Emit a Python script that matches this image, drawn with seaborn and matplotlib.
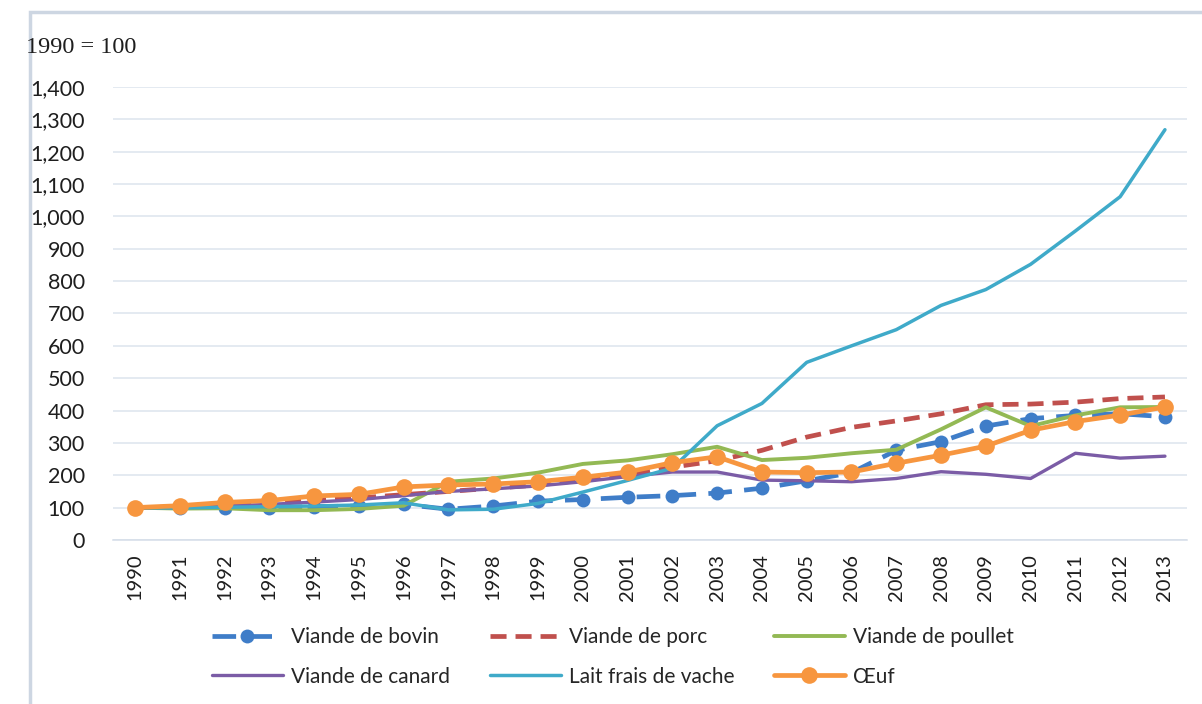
import numpy as np
import pandas as pd
import matplotlib
matplotlib.use("Agg")
import matplotlib.pyplot as plt
from matplotlib.patches import Rectangle
from matplotlib.ticker import FuncFormatter, MultipleLocator
import seaborn as sns

years = list(range(1990, 2014))

bovin = [100, 100, 100, 100, 103, 105, 110, 95, 105, 120, 125, 132, 137, 145,
         160, 183, 208, 277, 304, 352, 375, 385, 390, 381]
porc = [100, 102, 108, 115, 122, 130, 140, 150, 160, 170, 185, 200, 225, 245,
        277, 318, 348, 368, 390, 418, 420, 426, 437, 442]
poulet = [100, 97, 98, 92, 92, 96, 106, 180, 190, 208, 235, 246, 265, 288,
          247, 254, 268, 279, 342, 410, 352, 385, 410, 411]
canard = [100, 100, 105, 110, 117, 125, 137, 150, 158, 167, 180, 196, 210, 210,
          185, 183, 180, 190, 211, 203, 190, 268, 253, 259]
lait = [100, 99, 101, 103, 105, 108, 115, 93, 95, 113, 148, 184, 222, 353,
        422, 549, 600, 650, 725, 774, 852, 955, 1061, 1268]
oeuf = [100, 106, 116, 122, 136, 141, 164, 170, 173, 180, 194, 210, 239, 257,
        210, 208, 210, 237, 262, 290, 339, 366, 386, 411]

labels = ["Viande de bovin", "Viande de porc", "Viande de poullet",
          "Viande de canard", "Lait frais de vache", "Œuf"]
series = [bovin, porc, poulet, canard, lait, oeuf]

styles = {
    "Viande de bovin": dict(color="#3F7DC8", lw=3.4, ls=(0, (5, 2.6)),
                            marker="o", ms=10),
    "Viande de porc": dict(color="#C0504D", lw=3.4, ls=(0, (3.4, 1.9))),
    "Viande de poullet": dict(color="#93B954", lw=2.8, ls="-"),
    "Viande de canard": dict(color="#7B5CA6", lw=2.4, ls="-"),
    "Lait frais de vache": dict(color="#3FAAC9", lw=2.5, ls="-"),
    "Œuf": dict(color="#F7963F", lw=3.4, ls="-", marker="o", ms=12),
}

sns.set_style("white")
plt.rcParams["font.family"] = ["Lato", "DejaVu Sans"]

fig = plt.figure(figsize=(12.02, 7.04), dpi=100)
ax = fig.add_axes([0.0937, 0.233, 0.8941, 0.6434])

handles = {}
for name, vals in zip(labels, series):
    df = pd.DataFrame({"year": years, "value": vals})
    st = styles[name]
    sns.lineplot(data=df, x="year", y="value", ax=ax, color=st["color"],
                 linewidth=st["lw"], linestyle=st["ls"],
                 marker=st.get("marker"), markersize=st.get("ms", 0),
                 markeredgewidth=0, label=name, legend=False)
    handles[name] = ax.lines[-1]

ax.set_xlim(1989.5, 2013.5)
ax.set_ylim(0, 1400)
ax.yaxis.set_major_locator(MultipleLocator(100))
ax.yaxis.set_major_formatter(FuncFormatter(lambda v, p: f"{int(v):,}"))
ax.set_xticks(years)
ax.set_xticklabels([str(y) for y in years], rotation=90)
ax.set_xticks(np.arange(1989.5, 2014, 1), minor=True)
ax.tick_params(axis="x", which="major", length=0, pad=10, labelsize=14.5,
               colors="#1E1E1E")
ax.tick_params(axis="x", which="minor", length=7, width=1, color="#D5DDE8")
ax.tick_params(axis="y", length=0, pad=20, labelsize=15.5, colors="#1E1E1E")
ax.grid(axis="y", color="#DCE4EE", lw=1.1)
ax.set_axisbelow(True)
for s in ["top", "right", "left"]:
    ax.spines[s].set_visible(False)
ax.spines["bottom"].set_color("#D5DDE8")
ax.spines["bottom"].set_linewidth(1.1)
ax.set_xlabel("")
ax.set_ylabel("")

order = ["Viande de bovin", "Viande de canard", "Viande de porc",
         "Lait frais de vache", "Viande de poullet", "Œuf"]
fig.legend([handles[n] for n in order], order, loc="center",
           bbox_to_anchor=(0.51, 0.067), ncol=3, frameon=False, fontsize=15,
           handlelength=3.4, columnspacing=1.9, handletextpad=0.4,
           labelspacing=0.95)

fig.text(0.022, 0.933, "1990 = 100", fontsize=17.5, family="Liberation Serif",
         color="#1E1E1E", va="center")

fig.patches.append(Rectangle((0.025, -0.01), 0.98, 0.993,
                             transform=fig.transFigure, fill=False,
                             edgecolor="#CDD6E2", lw=2.5))

fig.savefig("out.png", dpi=100)
